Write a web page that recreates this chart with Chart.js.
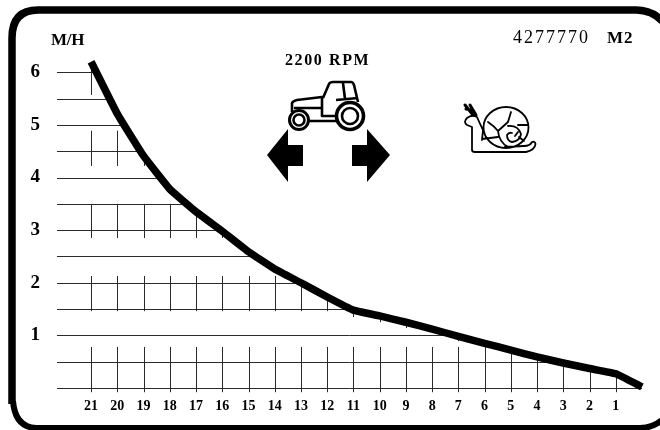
<!DOCTYPE html>
<html>
<head>
<meta charset="utf-8">
<style>
  html, body { margin: 0; padding: 0; background: #fff; }
  #wrap { width: 660px; height: 430px; }
</style>
<script src="https://cdn.jsdelivr.net/npm/chart.js@4"></script>
</head>
<body>
<div id="wrap"><canvas id="chart" width="660" height="430"></canvas></div>
<script>
// values
const speedSteps = [21, 20, 19, 18, 17, 16, 15, 14, 13, 12, 11, 10, 9, 8, 7, 6, 5, 4, 3, 2, 1, 0];
const speedValues = [6.2, 5.21, 4.41, 3.78, 3.35, 2.98, 2.59, 2.26, 2.0, 1.73, 1.48, 1.37, 1.25, 1.12, 0.98, 0.85, 0.72, 0.59, 0.475, 0.37, 0.27, 0.02];
const xTickLabels = [21, 20, 19, 18, 17, 16, 15, 14, 13, 12, 11, 10, 9, 8, 7, 6, 5, 4, 3, 2, 1];
const yTickLabels = [6, 5, 4, 3, 2, 1];
const hLines = [6, 5.5, 5, 4.5, 4, 3.5, 3, 2.5, 2, 1.5, 1, 0.5, 0];
const vBandFrom = [5.57, 4.22, 2.85, 1.46, -0.08];
const vBandTo = [6.3, 4.89, 3.5, 2.13, 0.78];
const stubSteps = [11, 10, 9, 7];
const stubBottoms = [1.35, 1.25, 1.14, 0.89];

const unitLabel = "M/H";
const rpmLabel = "2200 RPM";
const partLabel = "4277770";
const modelLabel = "M2";

const serif = '"Liberation Serif", "DejaVu Serif", serif';

const clippedGrid = {
    id: "clippedGrid",
    beforeDatasetsDraw(chart) {
        const { ctx, scales: { x, y } } = chart;
        const snap = (v) => Math.round(v) + 0.5;
        ctx.save();
        // grid only exists under the curve
        ctx.beginPath();
        ctx.moveTo(0, y.getPixelForValue(speedValues[0]));
        speedSteps.forEach((s, i) => ctx.lineTo(x.getPixelForValue(s), y.getPixelForValue(speedValues[i])));
        ctx.lineTo(660, y.getPixelForValue(speedValues[speedValues.length - 1]));
        ctx.lineTo(660, 430);
        ctx.lineTo(0, 430);
        ctx.closePath();
        ctx.clip();
        ctx.strokeStyle = "#2a2a2a";
        ctx.lineWidth = 1;
        ctx.beginPath();
        hLines.forEach((v) => {
            ctx.moveTo(x.left, snap(y.getPixelForValue(v)));
            ctx.lineTo(x.getPixelForValue(0), snap(y.getPixelForValue(v)));
        });
        xTickLabels.forEach((s) => {
            const px = snap(x.getPixelForValue(s));
            vBandFrom.forEach((from, i) => {
                ctx.moveTo(px, y.getPixelForValue(from));
                ctx.lineTo(px, y.getPixelForValue(vBandTo[i]));
            });
        });
        stubSteps.forEach((s, i) => {
            const px = snap(x.getPixelForValue(s));
            ctx.moveTo(px, y.getPixelForValue(stubBottoms[i]));
            ctx.lineTo(px, y.getPixelForValue(2));
        });
        ctx.stroke();
        ctx.restore();
    },
};

function drawFrame(ctx) {
    ctx.lineWidth = 7.5;
    ctx.strokeStyle = "#000";
    ctx.beginPath();
    ctx.moveTo(12, 404);
    ctx.lineTo(12, 38);
    ctx.quadraticCurveTo(12, 10, 38, 10);
    ctx.lineTo(636, 10);
    ctx.quadraticCurveTo(656, 10, 668, 28);
    ctx.stroke();
    // the bottom run is a separate, slightly offset stroke in the reference
    ctx.lineWidth = 6;
    ctx.beginPath();
    ctx.moveTo(672, 408);
    ctx.quadraticCurveTo(660, 428, 640, 428);
    ctx.lineTo(36, 428);
    ctx.quadraticCurveTo(15, 427, 13, 401);
    ctx.stroke();
}

function drawArrows(ctx) {
    ctx.fillStyle = "#000";
    [[267, 288, 303], [390, 367, 352]].forEach(([tip, base, tail]) => {
        ctx.beginPath();
        ctx.moveTo(tip, 155);
        ctx.lineTo(base, 129);
        ctx.lineTo(base, 145);
        ctx.lineTo(tail, 145);
        ctx.lineTo(tail, 166);
        ctx.lineTo(base, 166);
        ctx.lineTo(base, 182);
        ctx.closePath();
        ctx.fill();
    });
}

function drawTractor(ctx) {
    ctx.strokeStyle = "#000";
    ctx.lineJoin = "round";
    ctx.lineWidth = 2.6;
    ctx.beginPath();
    // hood and lower body
    ctx.moveTo(292, 112);
    ctx.lineTo(292, 103);
    ctx.quadraticCurveTo(293, 101, 297, 100);
    ctx.lineTo(322, 97);
    ctx.lineTo(322, 116);
    ctx.lineTo(336, 116);
    ctx.moveTo(308, 121);
    ctx.lineTo(336, 121);
    ctx.moveTo(294, 108);
    ctx.lineTo(322, 108);
    // cab
    ctx.moveTo(323, 98);
    ctx.lineTo(329, 84);
    ctx.quadraticCurveTo(330, 82, 333, 82);
    ctx.lineTo(351, 82);
    ctx.quadraticCurveTo(353, 82, 354, 85);
    ctx.lineTo(358, 102);
    ctx.moveTo(343, 83);
    ctx.lineTo(345, 99);
    ctx.moveTo(336, 100);
    ctx.lineTo(358, 98);
    ctx.stroke();
    // wheels
    [[299, 120, 9.5, 5.5, 3], [350, 116, 13.5, 8, 3.6]].forEach(([cx, cy, outer, inner, w]) => {
        ctx.fillStyle = "#fff";
        ctx.beginPath();
        ctx.arc(cx, cy, outer, 0, Math.PI * 2);
        ctx.fill();
        ctx.lineWidth = w;
        ctx.stroke();
        ctx.lineWidth = 2.6;
        ctx.beginPath();
        ctx.arc(cx, cy, inner, 0, Math.PI * 2);
        ctx.stroke();
    });
}

function drawSnail(ctx) {
    ctx.strokeStyle = "#000";
    ctx.lineJoin = "round";
    ctx.lineCap = "round";
    ctx.lineWidth = 1.8;
    ctx.beginPath();
    // shell
    ctx.ellipse(506, 127.5, 22.5, 20.5, 0, 0, Math.PI * 2);
    // foot and head
    ctx.moveTo(482, 140);
    ctx.lineTo(483, 130);
    ctx.quadraticCurveTo(480, 124, 477, 117);
    ctx.quadraticCurveTo(472, 114, 467, 118);
    ctx.quadraticCurveTo(463, 122, 467, 125);
    ctx.lineTo(472, 127);
    ctx.lineTo(472, 150);
    ctx.quadraticCurveTo(472, 152, 475, 152);
    ctx.lineTo(526, 152);
    ctx.quadraticCurveTo(535, 150, 535.5, 144);
    ctx.quadraticCurveTo(535, 141, 532, 142);
    ctx.quadraticCurveTo(530, 146, 524, 146);
    ctx.lineTo(505, 147);
    ctx.moveTo(482, 139);
    ctx.quadraticCurveTo(490, 138, 498, 137);
    // shell ribs and spiral
    ctx.moveTo(511, 112);
    ctx.lineTo(508, 122);
    ctx.lineTo(498, 131);
    ctx.quadraticCurveTo(494, 126, 488, 122);
    ctx.moveTo(498, 131);
    ctx.quadraticCurveTo(499, 142, 508, 147);
    ctx.moveTo(508, 126);
    ctx.quadraticCurveTo(518, 125, 521, 134);
    ctx.quadraticCurveTo(520, 141, 512, 142);
    ctx.quadraticCurveTo(507, 141, 507, 135);
    ctx.quadraticCurveTo(509, 132, 512, 133);
    ctx.moveTo(518, 125);
    ctx.lineTo(527, 125);
    ctx.moveTo(519, 137);
    ctx.lineTo(524, 141);
    ctx.moveTo(515, 136);
    ctx.lineTo(518, 132);
    ctx.stroke();
    // antennae
    ctx.lineWidth = 3;
    ctx.beginPath();
    ctx.moveTo(476, 115);
    ctx.lineTo(470, 105);
    ctx.moveTo(473, 115);
    ctx.lineTo(465, 105);
    ctx.moveTo(472, 110);
    ctx.lineTo(466, 109);
    ctx.stroke();
    ctx.lineCap = "butt";
}

function drawText(ctx) {
    ctx.fillStyle = "#000";
    ctx.textBaseline = "alphabetic";
    ctx.textAlign = "left";
    ctx.font = "bold 17px " + serif;
    ctx.letterSpacing = "-0.3px";
    ctx.fillText(unitLabel, 51, 45);
    ctx.font = "bold 16px " + serif;
    ctx.letterSpacing = "1.6px";
    ctx.fillText(rpmLabel, 285, 65);
    ctx.font = "18px " + serif;
    ctx.letterSpacing = "2px";
    ctx.fillText(partLabel, 513, 43);
    ctx.letterSpacing = "1px";
    ctx.font = "bold 17px " + serif;
    ctx.fillText(modelLabel, 607, 43);
    ctx.letterSpacing = "0px";
}

const decorations = {
    id: "decorations",
    afterDraw(chart) {
        const { ctx } = chart;
        ctx.save();
        drawFrame(ctx);
        drawArrows(ctx);
        drawTractor(ctx);
        drawSnail(ctx);
        drawText(ctx);
        ctx.restore();
    },
};

new Chart(document.getElementById("chart"), {
    type: "line",
    data: {
        datasets: [{
            label: "Speed",
            data: speedSteps.map((s, i) => ({ x: s, y: speedValues[i] })),
            borderColor: "#000",
            borderWidth: 7.5,
            pointRadius: 0,
            tension: 0.1,
            clip: false,
            fill: false,
        }],
    },
    options: {
        responsive: false,
        animation: false,
        layout: { padding: { top: 46, right: 18, left: 0, bottom: 0 } },
        plugins: { legend: { display: false }, tooltip: { enabled: false } },
        scales: {
            x: {
                type: "linear",
                reverse: true,
                min: 0,
                max: 22.3,
                grid: { display: false },
                border: { display: false },
                afterBuildTicks: (scale) => { scale.ticks = xTickLabels.map((v) => ({ value: v })); },
                afterFit: (scale) => { scale.height = 42; },
                ticks: {
                    autoSkip: false,
                    maxRotation: 0,
                    padding: 2,
                    color: "#000",
                    font: { family: serif, size: 14, weight: "bold" },
                },
            },
            y: {
                min: 0,
                max: 6.5,
                grid: { display: false },
                border: { display: false },
                afterBuildTicks: (scale) => { scale.ticks = yTickLabels.map((v) => ({ value: v })); },
                afterFit: (scale) => { scale.width = 57; },
                ticks: {
                    padding: 9,
                    color: "#000",
                    font: { family: serif, size: 19, weight: "bold" },
                },
            },
        },
    },
    plugins: [clippedGrid, decorations],
});
</script>
</body>
</html>
